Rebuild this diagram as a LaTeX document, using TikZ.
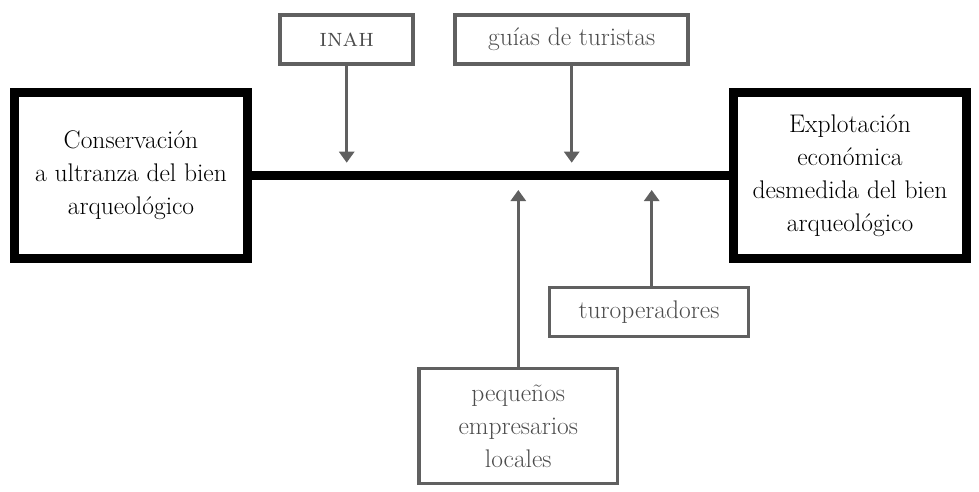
\documentclass[tikz,border=0pt]{standalone}
\usepackage{fontspec}
\usetikzlibrary{arrows.meta}
\definecolor{boxgray}{HTML}{606060}
\definecolor{txtgray}{HTML}{4C4C4C}
\begin{document}
\begin{tikzpicture}[x=1pt,y=-1pt,
  mainbox/.style={draw=black,line width=8.5pt,minimum width=233pt,minimum height=166pt,inner sep=0pt,align=center,font=\fontsize{25.5}{33}\selectfont},
  actor/.style={draw=boxgray,line width=3.5pt,inner sep=0pt,align=center,text=txtgray,font=\fontsize{25.5}{33}\selectfont},
  arr/.style={draw=boxgray,line width=3.5pt,-{Triangle[width=15pt,length=11pt]}}]
\useasboundingbox (0,0) rectangle (979,492);
\node[mainbox] (cons) at (131,175.5) {Conservación\\a ultranza del bien\\arqueológico};
\node[mainbox] (expl) at (850,175.5) {Explotación\\económica\\desmedida del bien\\arqueológico};
\draw[line width=8.5pt] (cons.east) -- (expl.west);
\node[actor,minimum width=133pt,minimum height=49pt] (inah) at (346.7,39.7) {\textsc{inah}};
\node[actor,minimum width=233pt,minimum height=49pt] (guias) at (571.7,39.7) {guías de turistas};
\node[actor,minimum width=199pt,minimum height=49pt] (turo) at (649,312) {turoperadores};
\node[actor,minimum width=198.5pt,minimum height=115pt] (peq) at (518.3,426) {pequeños\\empresarios\\locales};
\coordinate (dtip) at (0,162.7);
\coordinate (utip) at (0,190);
\coordinate (tb) at ([xshift=2.7pt]turo.north);
\draw[arr] (inah.south) -- (inah.south |- dtip);
\draw[arr] (guias.south) -- (guias.south |- dtip);
\draw[arr] (peq.north) -- (peq.north |- utip);
\draw[arr] (tb) -- (tb |- utip);
\end{tikzpicture}
\end{document}
